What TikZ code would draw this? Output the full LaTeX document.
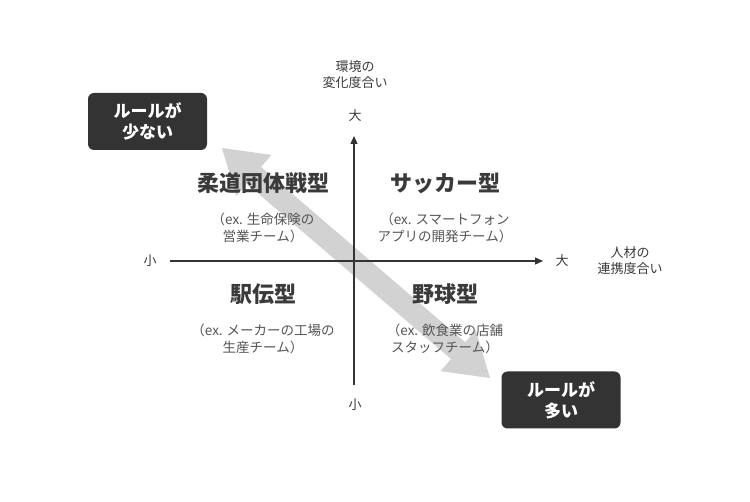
\documentclass[tikz,border=0pt]{standalone}
\usepackage{fontspec}
\setmainfont{Noto Sans CJK JP}
\usetikzlibrary{calc,arrows.meta}
\definecolor{dk}{HTML}{333333}
\definecolor{tx}{HTML}{3A3A3A}
\definecolor{sb}{HTML}{555555}
\definecolor{ar}{HTML}{D2D2D2}
\begin{document}
\begin{tikzpicture}[x=1pt,y=-1pt,
  title/.style={font=\fontsize{22}{24}\selectfont\bfseries, text=tx},
  sub/.style={font=\fontsize{13.5}{17}\selectfont, text=sb, align=center},
  lab/.style={font=\fontsize{13}{16}\selectfont, text=tx, align=center},
  rbox/.style={fill=dk, rounded corners=6pt, text=white, align=center, font=\fontsize{17}{21}\selectfont\bfseries, minimum width=119pt, minimum height=57pt, inner sep=0pt},
  axis/.style={draw=dk, line width=1.3pt, -{Triangle[length=8pt,width=7pt]}}]
\useasboundingbox (0,0) rectangle (750,502);
\fill[white] (0,0) rectangle (750,502);
% double arrow
\coordinate (A) at (222,148);
\coordinate (B) at (490,378);
\coordinate (A1) at ($(A)!42pt!(B)$);
\coordinate (B1) at ($(B)!42pt!(A)$);
\fill[ar] (A) -- ($(A1)!27pt!90:(B)$) -- ($(A1)!11pt!90:(B)$) -- ($(B1)!11pt!-90:(A)$) -- ($(B1)!27pt!-90:(A)$) -- (B)
  -- ($(B1)!27pt!90:(A)$) -- ($(B1)!11pt!90:(A)$) -- ($(A1)!11pt!-90:(B)$) -- ($(A1)!27pt!-90:(B)$) -- cycle;
% axes
\coordinate (vb) at (354,385);
\coordinate (vt) at (354,136);
\coordinate (hl) at (170,261);
\coordinate (hr) at (543,261);
\draw[axis] (vb) -- (vt);
\draw[axis] (hl) -- (hr);
% labels
\node[lab] (yl) at (355,75) {環境の\\変化度合い};
\node[lab] (yb) at (355,116) {大};
\node[lab] (ys) at (355,405) {小};
\node[lab] (xs) at (150,261) {小};
\node[lab] (xb) at (562,261) {大};
\node[lab] (xl) at (630,261) {人材の\\連携度合い};
% quadrants
\node[title] (q1) at (263,183) {柔道団体戦型};
\node[title] (q2) at (445,183) {サッカー型};
\node[title] (q3) at (263,294) {駅伝型};
\node[title] (q4) at (445,294) {野球型};
\node[sub] (s1) at (263,228) {（ex. 生命保険の\\営業チーム）};
\node[sub] (s2) at (445,228) {（ex. スマートフォン\\アプリの開発チーム）};
\node[sub] (s3) at (263,339) {（ex. メーカーの工場の\\生産チーム）};
\node[sub] (s4) at (445,339) {（ex. 飲食業の店舗\\スタッフチーム）};
% boxes
\node[rbox] (b1) at (147.5,121.5) {ルールが\\少ない};
\node[rbox] (b2) at (561,400) {ルールが\\多い};
\end{tikzpicture}
\end{document}
